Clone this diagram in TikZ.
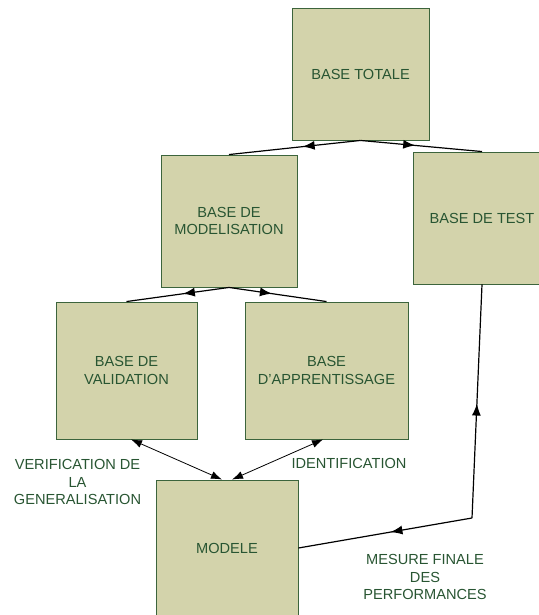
\documentclass[tikz,border=0pt]{standalone}
\usepackage{fontspec}
\setmainfont{Liberation Sans}
\usetikzlibrary{arrows.meta,decorations.markings}

\definecolor{boxfill}{RGB}{211,211,171}
\definecolor{boxline}{RGB}{60,100,60}
\definecolor{boxtext}{RGB}{40,85,50}

\tikzset{
	base/.style={draw=boxline, fill=boxfill, line width=0.9pt, text=boxtext, align=center,
		font=\fontsize{14.6}{17.6}\selectfont, inner sep=0pt},
	legende/.style={text=boxtext, align=center, font=\fontsize{14.6}{17.6}\selectfont, inner sep=0pt},
	lien/.style={draw=black, line width=1.2pt},
	lienfin/.style={draw=black, line width=0.8pt, {Latex[length=11pt,width=8pt]}-{Latex[length=11pt,width=8pt]}},
	midarrow/.style={postaction=decorate, decoration={markings,
		mark=at position #1 with {\arrow{Latex[length=12pt,width=9pt]}}}}
}

\begin{document}
\begin{tikzpicture}[x=1pt, y=-1pt]
		\useasboundingbox (0, 0) rectangle (538, 615);
	
		\node[base, minimum width=137pt, minimum height=132pt] (totale) at (360.5, 74) {BASE TOTALE};
		\node[base, minimum width=136pt, minimum height=132pt] (modelisation) at (229, 221) {BASE DE\\MODELISATION};
		\node[base, minimum width=138pt, minimum height=132pt] (test) at (482, 218) {BASE DE TEST};
		\node[base, minimum width=141pt, minimum height=137pt] (validation) at (126.5, 370.5) {BASE DE\\VALIDATION};
		\node[base, minimum width=163pt, minimum height=137pt] (apprentissage) at (326.5, 370.5) {BASE\\D'APPRENTISSAGE};
		\node[base, minimum width=142pt, minimum height=136pt] (modele) at (227, 548) {MODELE};
		
		\draw[lien, midarrow=0.44] (totale.south) -- (modelisation.north);
		\draw[lien, midarrow=0.45] (totale.south) -- (test.north);
		\draw[lien, midarrow=0.45] (modelisation.south) -- (validation.north);
		\draw[lien, midarrow=0.44] (modelisation.south) -- (apprentissage.north);
		
		\draw[lienfin] ([xshift=4.5pt]validation.south) -- ([xshift=-5pt]modele.north);
		\draw[lienfin] ([xshift=-3.5pt]apprentissage.south) -- ([xshift=5pt]modele.north);
		
		\coordinate (coude) at (472, 518);
		\draw[lien, midarrow=0.49] (coude) -- (test.south);
		\draw[lien, midarrow=0.47] (coude) -- (modele.east);
		
		\node[legende] (verif) at (77.5, 482) {VERIFICATION DE\\LA\\GENERALISATION};
		\node[legende] (ident) at (349, 463) {IDENTIFICATION};
		\node[legende] (mesure) at (425, 577) {MESURE FINALE\\DES\\PERFORMANCES};
	\end{tikzpicture}
\end{document}
